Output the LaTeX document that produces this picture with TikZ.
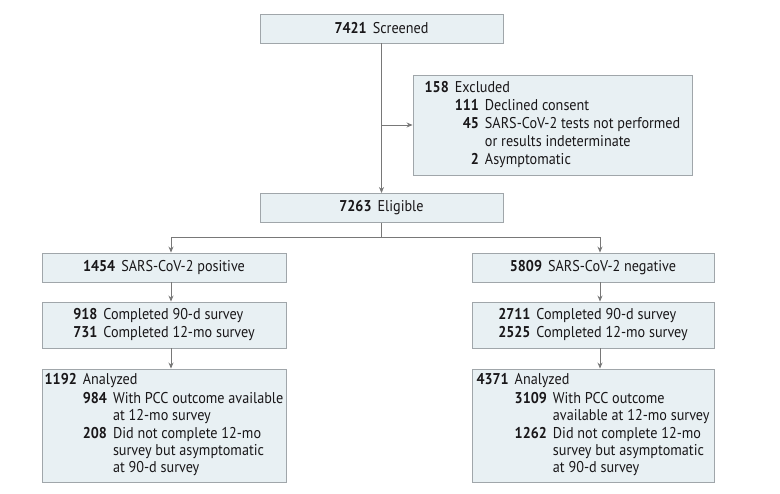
\documentclass[tikz,border=0pt]{standalone}
\usepackage{fontspec}
\setmainfont[FakeStretch=0.91]{PT Sans}
\usetikzlibrary{arrows.meta}
\definecolor{boxfill}{RGB}{232,240,243}
\definecolor{boxdraw}{RGB}{160,166,170}
\definecolor{linec}{RGB}{120,120,120}
\definecolor{txt}{RGB}{25,23,25}
\newcommand{\nb}[1]{\textbf{#1}}
\newcommand{\gap}{\hspace{6pt}}
\begin{document}
\begin{tikzpicture}[x=1pt,y=-1pt,
  font=\fontsize{15.6}{17.2}\selectfont,
  box/.style={draw=boxdraw, fill=boxfill, line width=0.9pt, text=txt, inner sep=0pt, align=center},
  conn/.style={draw=linec, line width=0.8pt, -{Stealth[length=6pt,width=5pt]}},
  plain/.style={draw=linec, line width=0.8pt}]
\useasboundingbox (0,0) rectangle (780,494);
\setlength{\tabcolsep}{3pt}

\node[box, minimum width=243, minimum height=29] (scr) at (381.5,28.5) {\nb{7421}\gap Screened};

\node[box, minimum width=279, minimum height=100] (exc) at (552.5,125)
{\begin{tabular}{@{}rrl@{}}
\nb{158} & \multicolumn{2}{l@{}}{Excluded}\\[1pt]
 & \nb{111} & Declined consent\\[1pt]
 & \nb{45} & SARS-CoV-2 tests not performed\\
 & & or results indeterminate\\[1pt]
 & \nb{2} & Asymptomatic
\end{tabular}};

\node[box, minimum width=243, minimum height=29] (eli) at (381.5,208) {\nb{7263}\gap Eligible};

\node[box, minimum width=244, minimum height=29] (pos) at (164,267.5) {\nb{1454}\gap SARS-CoV-2 positive};
\node[box, minimum width=242, minimum height=29] (neg) at (593,267.5) {\nb{5809}\gap SARS-CoV-2 negative};

\node[box, minimum width=244, minimum height=46] (sp) at (164,325)
{\begin{tabular}{@{}rl@{}}
\nb{918} & Completed 90-d survey\\
\nb{731} & Completed 12-mo survey
\end{tabular}};
\node[box, minimum width=242, minimum height=46] (sn) at (593,325)
{\begin{tabular}{@{}rl@{}}
\nb{2711} & Completed 90-d survey\\
\nb{2525} & Completed 12-mo survey
\end{tabular}};

\node[box, minimum width=244, minimum height=113] (ap) at (164,425.5)
{\begin{tabular}{@{}rrl@{}}
\nb{1192} & \multicolumn{2}{l@{}}{Analyzed}\\[1pt]
 & \nb{984} & With PCC outcome available\\
 & & at 12-mo survey\\[1pt]
 & \nb{208} & Did not complete 12-mo\\
 & & survey but asymptomatic\\
 & & at 90-d survey
\end{tabular}};
\node[box, minimum width=242, minimum height=113] (an) at (593,425.5)
{\begin{tabular}{@{}rrl@{}}
\nb{4371} & \multicolumn{2}{l@{}}{Analyzed}\\[1pt]
 & \nb{3109} & With PCC outcome\\
 & & available at 12-mo survey\\[1pt]
 & \nb{1262} & Did not complete 12-mo\\
 & & survey but asymptomatic\\
 & & at 90-d survey
\end{tabular}};

\coordinate (lx) at (171,0);
\coordinate (rx) at (600,0);
\coordinate (split) at (381.5,237);

\draw[conn] (scr.south) -- (eli.north);
\draw[conn] (scr.south |- exc.west) -- (exc.west);
\draw[plain] (eli.south) -- (split);
\draw[conn] (split) -| (pos.north -| lx);
\draw[conn] (split) -| (neg.north -| rx);
\draw[conn] (pos.south -| lx) -- (sp.north -| lx);
\draw[conn] (sp.south -| lx) -- (ap.north -| lx);
\draw[conn] (neg.south -| rx) -- (sn.north -| rx);
\draw[conn] (sn.south -| rx) -- (an.north -| rx);
\end{tikzpicture}
\end{document}
